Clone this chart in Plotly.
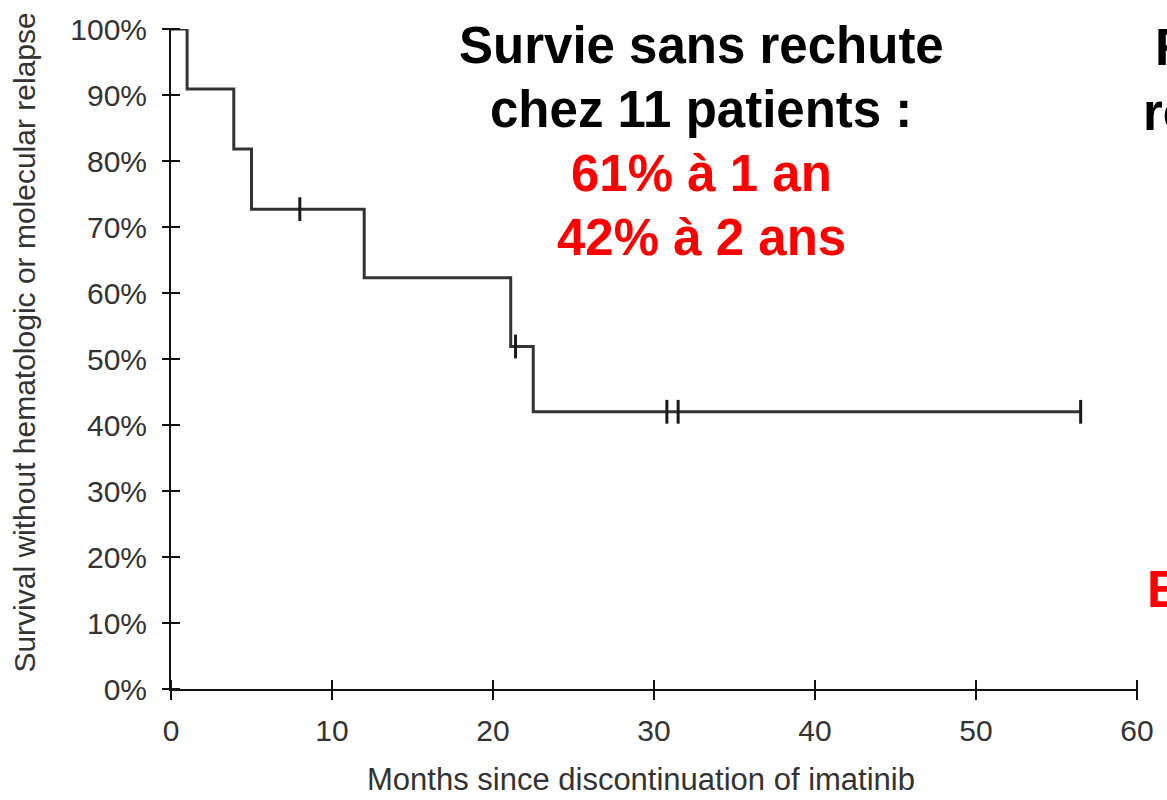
import plotly.graph_objects as go

# Kaplan-Meier estimate: relapse-free survival after stopping imatinib
event_months = [0, 1.0, 3.9, 5.0, 12.0, 21.1, 22.5, 56.5]
survival_pct = [100, 90.9, 81.8, 72.7, 62.3, 51.9, 42.0, 42.0]

# censored observations (months)
censor_months = [8.0, 21.4, 30.8, 31.5, 56.5]

x_ticks = [0, 10, 20, 30, 40, 50, 60]
y_ticks = [0, 10, 20, 30, 40, 50, 60, 70, 80, 90, 100]
y_tick_text = [f"{v}%" for v in y_ticks]

title_lines = ["Survie sans rechute", "chez 11 patients :"]
result_lines = ["61% à 1 an", "42% à 2 ans"]


def surv_at(t):
    s = survival_pct[0]
    for m, v in zip(event_months, survival_pct):
        if m <= t:
            s = v
    return s


censor_pct = [surv_at(t) for t in censor_months]

W, H = 1167, 800
ML, MR, MT, MB = 171, 30, 24, 111
PW, PH = W - ML - MR, H - MT - MB


def px(x):
    return (x - ML) / PW


def py(y):
    return (H - MB - y) / PH


AX = "#111111"
XT, YT = 10, 9  # half lengths of the crossing ticks
fig = go.Figure()

fig.add_trace(go.Scatter(
    x=event_months, y=survival_pct, mode="lines",
    line=dict(shape="hv", color="#333333", width=3),
    showlegend=False, hoverinfo="skip", cliponaxis=False,
))
fig.add_trace(go.Scatter(
    x=censor_months, y=censor_pct, mode="markers",
    marker=dict(symbol="line-ns", size=17, line=dict(color="#1a1a1a", width=3)),
    showlegend=False, hoverinfo="skip", cliponaxis=False,
))
# free-positioned companion axes: their ticks sit across the main axis lines
fig.add_trace(go.Scatter(x=[0], y=[0], xaxis="x2", yaxis="y2", mode="markers",
                         marker=dict(opacity=0), showlegend=False, hoverinfo="skip"))

tick_font = dict(family="Arial, Liberation Sans, sans-serif", size=30, color="#333333")

fig.update_layout(
    width=W, height=H,
    margin=dict(l=ML, r=MR, t=MT, b=MB),
    paper_bgcolor="white", plot_bgcolor="white",
    xaxis=dict(
        range=[0, 60], tickvals=x_ticks, ticktext=[str(v) for v in x_ticks],
        ticks="", showline=True, linecolor=AX, linewidth=2,
        showgrid=False, zeroline=False, tickfont=tick_font,
        ticklabelstandoff=14,
    ),
    yaxis=dict(
        range=[0, 100], tickvals=y_ticks, ticktext=y_tick_text,
        ticks="", showline=True, linecolor=AX, linewidth=2,
        showgrid=False, zeroline=False, tickfont=tick_font,
        ticklabelstandoff=16,
    ),
    xaxis2=dict(
        range=[0, 60], overlaying="x", anchor="free", position=XT / PH, side="bottom",
        tickmode="array", tickvals=x_ticks, ticks="outside", ticklen=2 * XT, tickwidth=2,
        tickcolor=AX, showticklabels=False, showline=False,
        showgrid=False, zeroline=False,
    ),
    yaxis2=dict(
        range=[0, 100], overlaying="y", anchor="free", position=YT / PW, side="left",
        tickmode="array", tickvals=y_ticks, ticks="outside", ticklen=2 * YT, tickwidth=2,
        tickcolor=AX, showticklabels=False, showline=False,
        showgrid=False, zeroline=False,
    ),
)

ann = []
label_font = dict(family="Arial, Liberation Sans, sans-serif", size=31, color="#333333")
ann.append(dict(text="Months since discontinuation of imatinib", xref="paper", yref="paper",
                x=px(640.5), y=py(780), xanchor="center", yanchor="middle",
                showarrow=False, font=label_font, borderpad=0))
ylabel_font = dict(family="Arial, Liberation Sans, sans-serif", size=30, color="#333333")
ann.append(dict(text="Survival without hematologic or molecular relapse", xref="paper", yref="paper",
                x=px(25), y=py(340), xanchor="center", yanchor="middle", textangle=-90,
                showarrow=False, font=ylabel_font, borderpad=0))

bold_black = dict(family="Arial, Liberation Sans, sans-serif", size=51, color="black", weight="bold")
bold_red = dict(family="Arial, Liberation Sans, sans-serif", size=51, color="#ff0000", weight="bold")

for text, yc in zip(title_lines, [41, 105]):
    ann.append(dict(text=text, xref="paper", yref="paper", x=px(701), y=py(yc),
                    xanchor="center", yanchor="middle", showarrow=False,
                    font=bold_black, borderpad=0))
for text, yc in zip(result_lines, [170, 234]):
    ann.append(dict(text=text, xref="paper", yref="paper", x=px(701), y=py(yc),
                    xanchor="center", yanchor="middle", showarrow=False,
                    font=bold_red, borderpad=0))

# beginnings of the neighbouring text block at the right edge
ann.append(dict(text="R", xref="paper", yref="paper", x=px(1154), y=py(43),
                xanchor="left", yanchor="middle", showarrow=False, font=bold_black, borderpad=0))
ann.append(dict(text="re", xref="paper", yref="paper", x=px(1142), y=py(108),
                xanchor="left", yanchor="middle", showarrow=False, font=bold_black, borderpad=0))
ann.append(dict(text="E", xref="paper", yref="paper", x=px(1146), y=py(589),
                xanchor="left", yanchor="middle", showarrow=False, font=bold_red, borderpad=0))

fig.update_layout(annotations=ann)

fig.write_html("out.html")
